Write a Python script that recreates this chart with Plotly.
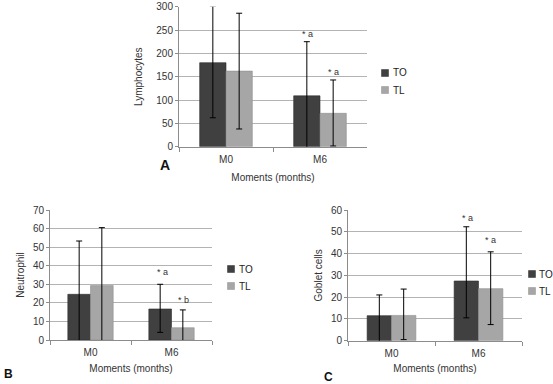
import plotly.graph_objects as go

W, H = 553, 384

categories = ["M0", "M6"]
series_names = ["TO", "TL"]
colors = {"TO": "#404040", "TL": "#a6a6a6"}
edge = {"TO": "#2e2e2e", "TL": "#8f8f8f"}

# Panel A - Lymphocytes
lym_TO = [180, 109]
lym_TO_plus = [121, 116]
lym_TO_minus = [118, 116]
lym_TL = [162, 71.5]
lym_TL_plus = [124, 71.5]
lym_TL_minus = [124, 70]

# Panel B - Neutrophil
neu_TO = [24.6, 16.7]
neu_TO_plus = [28.7, 13.3]
neu_TO_minus = [28.7, 12.6]
neu_TL = [29.3, 6.6]
neu_TL_plus = [31.2, 9.6]
neu_TL_minus = [31.2, 9.6]

# Panel C - Goblet cells
gob_TO = [11.5, 27.4]
gob_TO_plus = [9.5, 24.9]
gob_TO_minus = [12, 16.9]
gob_TL = [11.6, 23.9]
gob_TL_plus = [12.1, 16.9]
gob_TL_minus = [11.1, 16.5]

FONT = "Liberation Sans, Arial, sans-serif"
TXT = "#333333"

fig = go.Figure()

panels = [
    ("", [(lym_TO, lym_TO_plus, lym_TO_minus), (lym_TL, lym_TL_plus, lym_TL_minus)]),
    ("2", [(neu_TO, neu_TO_plus, neu_TO_minus), (neu_TL, neu_TL_plus, neu_TL_minus)]),
    ("3", [(gob_TO, gob_TO_plus, gob_TO_minus), (gob_TL, gob_TL_plus, gob_TL_minus)]),
]

for suf, data in panels:
    for name, (vals, plus, minus) in zip(series_names, data):
        fig.add_trace(go.Bar(
            x=categories, y=vals, name=name, showlegend=False,
            marker=dict(color=colors[name], line=dict(color=edge[name], width=0.6)),
            error_y=dict(type="data", symmetric=False, array=plus, arrayminus=minus,
                         color="#000000", thickness=1, width=3),
            xaxis="x" + suf, yaxis="y" + suf,
        ))

def px_x(p):
    return p / W

def px_y(p):
    return 1 - p / H

axis_common = dict(
    showline=True, linecolor="#8c8c8c", linewidth=1, automargin=False,
    tickfont=dict(family=FONT, size=10, color=TXT),
)

def xaxis(d0, d1, anchor, standoff):
    return dict(domain=[px_x(d0), px_x(d1)], anchor=anchor, type="category",
                ticks="outside", tickson="boundaries", ticklen=4, tickcolor="#8c8c8c",
                ticklabelstandoff=3,
                title=dict(text="Moments (months)", font=dict(family=FONT, size=10, color=TXT), standoff=standoff),
                **axis_common)

def yaxis(top, bottom, rng, dtick, title, anchor, standoff):
    return dict(domain=[px_y(bottom), px_y(top)], anchor=anchor, range=rng, dtick=dtick,
                showgrid=True, gridcolor="#b3b3b3", gridwidth=1, zeroline=False,
                ticks="outside", ticklen=3, tickcolor="#8c8c8c",
                title=dict(text=title, font=dict(family=FONT, size=10, color=TXT), standoff=standoff),
                **axis_common)

fig.update_layout(
    width=W, height=H,
    margin=dict(l=0, r=0, t=0, b=0, autoexpand=False),
    paper_bgcolor="white", plot_bgcolor="white",
    barmode="group", bargap=0.44, bargroupgap=0,
    showlegend=False,
    xaxis=xaxis(179, 367, "y", 10),
    yaxis=yaxis(6.7, 146.7, [0, 300], 50, "Lymphocytes", "x", 11),
    xaxis2=xaxis(50, 212, "y2", 7),
    yaxis2=yaxis(210, 340, [0, 70], 10, "Neutrophil", "x2", 6),
    xaxis3=xaxis(348, 522, "y3", 7),
    yaxis3=yaxis(210, 340.7, [0, 60], 10, "Goblet cells", "x3", 6),
)

# legend keys (one per panel): square swatch + label
legend_pos = [(385, 73, 90, 391), (231, 269, 286, 237), (532, 274, 291, 537)]
for sx, y_to, y_tl, tx in legend_pos:
    for name, yy in zip(series_names, [y_to, y_tl]):
        fig.add_shape(type="rect", xref="paper", yref="paper",
                      x0=px_x(sx - 3.5), x1=px_x(sx + 3.5), y0=px_y(yy + 3.5), y1=px_y(yy - 3.5),
                      fillcolor=colors[name], line=dict(color=edge[name], width=0.5))
        fig.add_annotation(x=px_x(tx), y=px_y(yy), xref="paper", yref="paper", text=name,
                           showarrow=False, xanchor="left", yanchor="middle",
                           font=dict(family=FONT, size=10, color="#222222"))

# significance marks
marks = [
    ("x", "y", "M6", 242, -13, "* a"),
    ("x", "y", "M6", 160.7, 13, "* a"),
    ("x2", "y2", "M6", 36.6, -9, "* a"),
    ("x2", "y2", "M6", 21.5, 12, "* b"),
    ("x3", "y3", "M6", 56.3, -11, "* a"),
    ("x3", "y3", "M6", 46.2, 12, "* a"),
]
for xr, yr, xc, yv, xs, txt in marks:
    fig.add_annotation(x=xc, y=yv, xref=xr, yref=yr, text=txt, showarrow=False,
                       xshift=xs, font=dict(family=FONT, size=9, color="#333333"))

# panel letters
for letter, px, py, size in [("A", 165, 165, 14), ("B", 8, 374, 12), ("C", 328, 377, 12)]:
    fig.add_annotation(x=px_x(px), y=px_y(py), xref="paper", yref="paper", text="<b>%s</b>" % letter,
                       showarrow=False, xanchor="center", yanchor="middle",
                       font=dict(family=FONT, size=size, color="#111111"))

fig.write_html("out.html", config={"displayModeBar": False},
               post_script="document.body.style.margin='0';document.body.style.overflow='hidden';")
